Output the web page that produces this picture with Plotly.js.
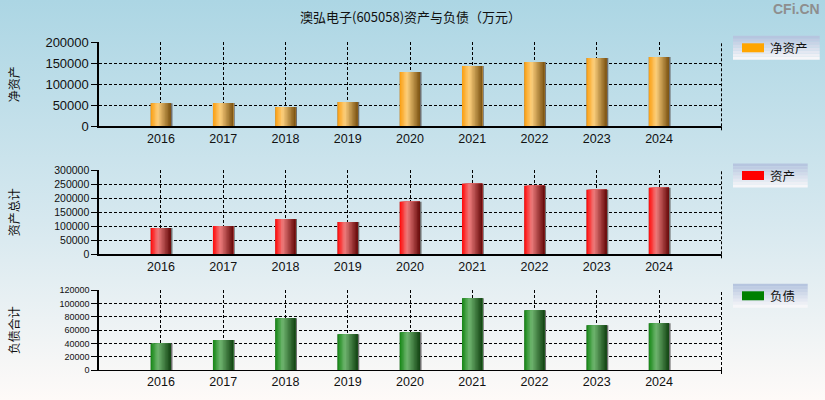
<!DOCTYPE html>
<html>
<head>
<meta charset="utf-8">
<script src="https://cdn.plot.ly/plotly-3.0.1.min.js"></script>
<style>
body{margin:0;}
#chart{width:825px;height:400px;background:linear-gradient(#acd6e4,#d6e8ef 55%,#fefaf8);}
</style>
</head>
<body>
<div id="chart"></div>
<script>
// ================= DATA =================
const years = ["2016","2017","2018","2019","2020","2021","2022","2023","2024"];
const netAssets = [55000,55500,46000,57900,129300,143600,153100,162600,165000];
const totalAssets = [93900,101000,126000,115300,186800,251000,243900,229600,236800];
const liabilities = [40000,45000,78000,54000,57000,108000,90000,67500,70500];

const panelTitles = ["净资产","资产总计","负债合计"];
const legendNames = ["净资产","资产","负债"];
const yMax = [200000,300000,120000];
const yStep = [50000,50000,20000];

// ================= HELPERS =================
const W = 825, H = 400;
function px(x){ return x/W; }
function py(y){ return 1 - y/H; }

function mix(a,b,t){
return a.map((v,i)=>Math.round(v+(b[i]-v)*t));
}
// cylinder style shading: base -> light -> dark
function shade(st, t){
let c = t < 0.35 ? mix(st[0],st[1],t/0.35) : mix(st[1],st[2],(t-0.35)/0.65);
return "rgb("+c.join(",")+")";
}

const stops = [
[[250,162,25],[253,208,125],[128,88,22]],
[[255,18,18],[238,125,125],[108,14,14]],
[[28,138,28],[112,182,112],[22,72,22]]
];
const swatch = ["#ffa500","#ff0000","#008000"];

const series = [netAssets,totalAssets,liabilities];
const idx = years.map((y,i)=>i);

// panel geometry in px (top, bottom)
const panels = [[42.3,126.3],[170,254.3],[290.3,370]];
const tickSize = [13,10.5,9];
const xLeft = 98.7, xRight = 721.3;

let traces = [];
let layout = {
width:W, height:H,
margin:{l:0,r:0,t:0,b:0},
paper_bgcolor:"rgba(0,0,0,0)",
plot_bgcolor:"rgba(0,0,0,0)",
barmode:"overlay",
showlegend:false,
hovermode:false,
font:{family:"Liberation Sans, Arial, sans-serif",color:"#111"},
shapes:[],
annotations:[]
};

const N = 14;
const BW = 0.325, OFF = -0.165;

series.forEach((vals,p)=>{
let xa = p===0 ? "x" : "x"+(p+1);
let ya = p===0 ? "y" : "y"+(p+1);

// shadow on the right
traces.push({
type:"bar", x:idx, y:vals, xaxis:xa, yaxis:ya,
width:BW+0.025, offset:OFF, marker:{color:"#6f6f6f",line:{width:0}}
});
for(let i=0;i<N;i++){
let w = BW/N;
traces.push({
type:"bar", x:idx, y:vals, xaxis:xa, yaxis:ya,
width:BW - i*w, offset:OFF + i*w,
marker:{color:shade(stops[p], i/(N-1)), line:{width:0}}
});
}

let xkey = p===0 ? "xaxis" : "xaxis"+(p+1);
let ykey = p===0 ? "yaxis" : "yaxis"+(p+1);

layout[xkey] = {
domain:[px(xLeft),px(xRight)],
anchor:ya,
range:[-1,9],
tickvals:idx,
ticktext:years,
ticks:"",
showgrid:true, gridcolor:"#000", gridwidth:1, griddash:"3px,2px",
showline:true, linecolor:"#000", linewidth:1.3,
zeroline:false,
tickfont:{size:12.5,color:"#111"},
fixedrange:true
};
layout[ykey] = {
domain:[py(panels[p][1]),py(panels[p][0])],
anchor:xa,
range:[0,yMax[p]],
dtick:yStep[p],
tickformat:"d",
ticks:"outside", ticklen:6, tickcolor:"#000",
showgrid:true, gridcolor:"#000", gridwidth:1, griddash:"3px,2px",
showline:true, linecolor:"#000", linewidth:1.3,
zeroline:false,
tickfont:{size:tickSize[p],color:"#111"},
fixedrange:true
};

// right border dashed, with a small tick below the axis
layout.shapes.push({type:"line",xref:"paper",yref:"paper",x0:px(721.5),x1:px(721.5),
y0:py(panels[p][1]),y1:py(panels[p][0]),line:{color:"#000",width:1,dash:"3px,2px"}});
layout.shapes.push({type:"line",xref:"paper",yref:"paper",x0:px(721.5),x1:px(721.5),
y0:py(panels[p][1]),y1:py(panels[p][1]+4),line:{color:"#000",width:1}});

// y title
layout.annotations.push({
xref:"paper",yref:"paper",x:px(13),y:py((panels[p][0]+panels[p][1])/2),
text:panelTitles[p],textangle:-90,showarrow:false,
font:{family:"Noto Sans CJK SC",size:12,color:"#111"},
xanchor:"center",yanchor:"middle"
});

// legend box
let lt = panels[p][0] - 6.5, lb = lt + 24;
let lr = p===0 ? 819.7 : 807.7;
let nb = 8;
for(let b=0;b<nb;b++){
let c = mix([182,197,223],[246,246,249],b/(nb-1));
layout.shapes.push({type:"rect",xref:"paper",yref:"paper",
x0:px(733),x1:px(lr),y0:py(lt+(b+1)*(lb-lt)/nb),y1:py(lt+b*(lb-lt)/nb),
line:{width:0},fillcolor:"rgb("+c.join(",")+")"});
}
let cy = (lt+lb)/2;
layout.shapes.push({type:"rect",xref:"paper",yref:"paper",
x0:px(742),x1:px(764),y0:py(cy+4.5),y1:py(cy-4.5),
line:{width:0},fillcolor:swatch[p]});
layout.annotations.push({
xref:"paper",yref:"paper",x:px(768),y:py(cy),
text:legendNames[p],showarrow:false,
font:{family:"Noto Sans CJK SC",size:12.5,color:"#111"},
xanchor:"left",yanchor:"middle"
});
});

// title and watermark
layout.annotations.push({
xref:"paper",yref:"paper",x:px(410),y:py(17),
text:"澳弘电子(605058)资产与负债（万元）",showarrow:false,
font:{family:"Noto Sans CJK SC",size:13,color:"#111"},
xanchor:"center",yanchor:"middle"
});
layout.annotations.push({
xref:"paper",yref:"paper",x:px(822),y:py(9),
text:"<b>CFi.CN</b>",showarrow:false,
font:{family:"Liberation Sans, Arial",size:14,color:"#8e8e8e"},
xanchor:"right",yanchor:"middle"
});

Plotly.newPlot("chart",traces,layout,{staticPlot:true});
</script>
</body>
</html>
